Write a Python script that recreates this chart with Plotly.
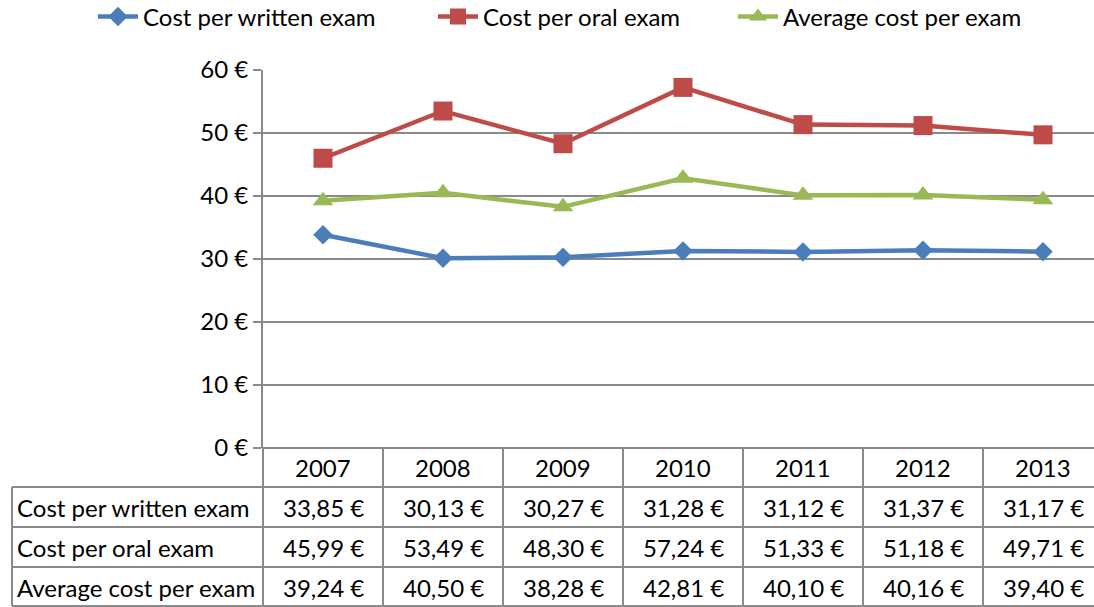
import plotly.graph_objects as go

years = ["2007", "2008", "2009", "2010", "2011", "2012", "2013"]
written = [33.85, 30.13, 30.27, 31.28, 31.12, 31.37, 31.17]
oral = [45.99, 53.49, 48.30, 57.24, 51.33, 51.18, 49.71]
average = [39.24, 40.50, 38.28, 42.81, 40.10, 40.16, 39.40]

series = [
    ("Cost per written exam", written, "#4a7ebb", "diamond", 15),
    ("Cost per oral exam", oral, "#be4b48", "square", 19),
    ("Average cost per exam", average, "#98b954", "triangle-up", 18),
]

FONT = "Lato"
FS = 24
GRID = "#8a8a8a"

W, H = 1094, 607
L, T, B = 263, 70, 159
plot_w = W - L
plot_h = H - T - B


def px_x(px):
    return (px - L) / plot_w


def px_y(py):
    return (H - B - py) / plot_h


def euro(v):
    return f"{v:.2f}".replace(".", ",") + " €"


legend_ids = ["legend", "legend2", "legend3"]
legend_x = [93, 433, 733]

fig = go.Figure()
for (name, vals, color, sym, size), lg in zip(series, legend_ids):
    fig.add_trace(go.Scatter(
        x=list(range(len(years))), y=vals, name=name, mode="lines+markers",
        line=dict(color=color, width=4.5),
        marker=dict(symbol=sym, size=size, color=color),
        legend=lg,
    ))

shapes = []
annotations = []

# table grid
row_lines = [448, 487, 527, 567, 606]
y_bot = px_y(606)
for py in row_lines[1:]:
    shapes.append(dict(type="line", xref="paper", yref="paper",
                       x0=px_x(12), x1=1.0, y0=px_y(py), y1=px_y(py),
                       line=dict(color=GRID, width=2)))
shapes.append(dict(type="line", xref="paper", yref="paper",
                   x0=px_x(12), x1=px_x(12), y0=px_y(487), y1=y_bot,
                   line=dict(color=GRID, width=2)))
shapes.append(dict(type="line", xref="paper", yref="paper",
                   x0=0, x1=0, y0=0, y1=y_bot,
                   line=dict(color=GRID, width=2)))
for k in range(1, len(years)):
    shapes.append(dict(type="line", xref="x", yref="paper",
                       x0=k - 0.5, x1=k - 0.5, y0=0, y1=y_bot,
                       line=dict(color=GRID, width=2)))

cell_font = dict(family=FONT, size=FS, color="#000")

# header row
for i, yr in enumerate(years):
    annotations.append(dict(x=i, y=px_y(467), xref="x", yref="paper",
                            xanchor="center", yanchor="middle",
                            text=yr, showarrow=False, font=cell_font))

row_centers = [507, 547, 587]
for (name, vals, *_), cy in zip(series, row_centers):
    annotations.append(dict(x=px_x(15), y=px_y(cy), xref="paper", yref="paper",
                            xanchor="left", yanchor="middle",
                            text=name, showarrow=False, font=cell_font))
    for i, v in enumerate(vals):
        annotations.append(dict(x=i, y=px_y(cy), xref="x", yref="paper",
                                xanchor="center", yanchor="middle",
                                text=euro(v), showarrow=False, font=cell_font))

layout_legends = {}
for lg, lx in zip(legend_ids, legend_x):
    layout_legends[lg] = dict(
        orientation="h", xref="container", yref="container",
        x=lx / W, xanchor="left", y=1 - 17 / H, yanchor="middle",
        font=dict(family=FONT, size=FS), itemwidth=40,
        bgcolor="rgba(0,0,0,0)",
    )

fig.update_layout(
    width=W, height=H,
    margin=dict(l=L, r=0, t=T, b=B, pad=0, autoexpand=False),
    paper_bgcolor="white", plot_bgcolor="white",
    font=dict(family=FONT, size=FS, color="#000"),
    showlegend=True,
    xaxis=dict(range=[-0.5, -0.5 + plot_w / 120], showticklabels=False,
               showgrid=False, zeroline=False, showline=False, ticks="",
               automargin=False, fixedrange=True),
    yaxis=dict(range=[0, 60], dtick=10, ticksuffix=" €",
               showgrid=True, gridcolor=GRID, gridwidth=2,
               zeroline=True, zerolinecolor=GRID, zerolinewidth=2,
               showline=True, linecolor=GRID, linewidth=2,
               ticks="outside", ticklen=8, tickcolor=GRID, tickwidth=2,
               tickfont=dict(family=FONT, size=FS), automargin=False,
               fixedrange=True),
    shapes=shapes,
    annotations=annotations,
    **layout_legends,
)

fig.write_html("out.html", config={"displayModeBar": False},
               post_script="document.body.style.margin='0';")
